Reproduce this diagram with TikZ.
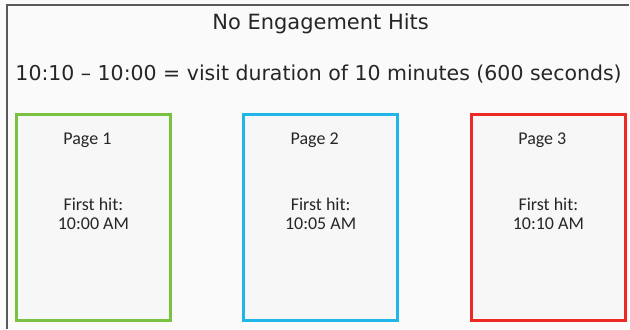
\documentclass[tikz,border=0pt]{standalone}
\usepackage{fontspec}
\setmainfont{DejaVu Sans}
\newfontfamily\pagefont{Carlito}
\usetikzlibrary{positioning}

\definecolor{hitgreen}{RGB}{122,193,66}
\definecolor{hitblue}{RGB}{32,182,232}
\definecolor{hitred}{RGB}{237,41,36}

\begin{document}
\begin{tikzpicture}[x=1pt, y=-1pt,
    pagebox/.style={draw, line width=3pt, fill=white!97!black, minimum width=154pt, minimum height=206pt, inner sep=0pt},
    pagetext/.style={text=black!85, font=\pagefont\fontsize{18}{19}\selectfont, align=center, inner sep=0pt}]
    % Sheet and frame
    \fill[white!98!black] (0,0) rectangle (630,329);
    \draw[black!65, line width=1.5pt] (7,329) -- (7,5) -- (630,5);

    % Headings
    \node[anchor=base, text=black!85, font=\fontsize{21}{25}\selectfont] (title) at (321,30) {No Engagement Hits};
    \node[anchor=base, text=black!85, font=\fontsize{20.5}{25}\selectfont] (formula) at (319,81) {10:10 – 10:00 = visit duration of 10 minutes (600 seconds)};

    % Page boxes
    \node[pagebox, draw=hitgreen] (page1) at (93.5,217.5) {};
    \node[pagebox, draw=hitblue] (page2) at (321,217.5) {};
    \node[pagebox, draw=hitred] (page3) at (549,217.5) {};

    % Page names
    \node[pagetext, anchor=base] (name1) at ([xshift=-6pt, yshift=72.5pt]page1.center) {Page 1};
    \node[pagetext, anchor=base] (name2) at ([xshift=-6pt, yshift=72.5pt]page2.center) {Page 2};
    \node[pagetext, anchor=base] (name3) at ([xshift=-6pt, yshift=72.5pt]page3.center) {Page 3};

    % First hit times (base sits on the second line)
    \node[pagetext, anchor=base] (hit1) at ([yshift=-12.5pt]page1.center) {First hit:\\10:00 AM};
    \node[pagetext, anchor=base] (hit2) at ([yshift=-12.5pt]page2.center) {First hit:\\10:05 AM};
    \node[pagetext, anchor=base] (hit3) at ([yshift=-12.5pt]page3.center) {First hit:\\10:10 AM};
\end{tikzpicture}
\end{document}
